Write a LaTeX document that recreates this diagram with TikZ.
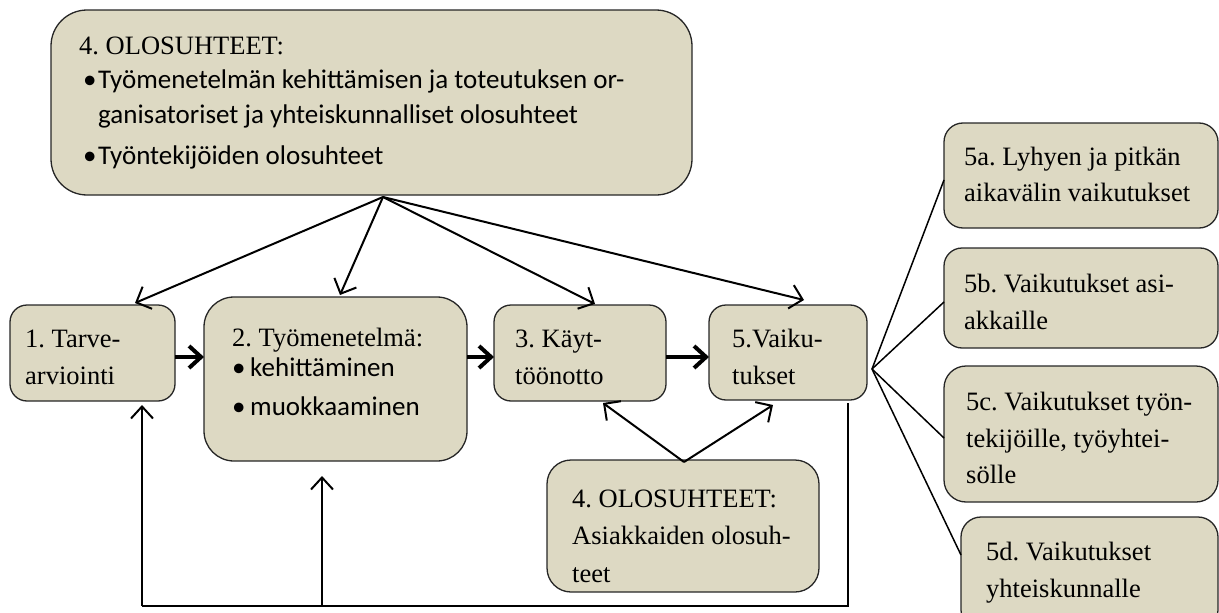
\documentclass[tikz,border=0pt]{standalone}
\usepackage{fontspec}
\setmainfont{Liberation Serif}
\newfontfamily\calib{Carlito}
\usetikzlibrary{arrows.meta}
\definecolor{boxfill}{HTML}{DDD9C3}
\definecolor{boxline}{HTML}{262626}
\begin{document}
\frenchspacing
\begin{tikzpicture}[x=1pt,y=-1pt,
  bx/.style={draw=boxline, fill=boxfill, line width=1.3pt, inner sep=0pt, outer sep=0pt},
  txt/.style={anchor=mid west, inner sep=0pt, yshift=-5pt, font=\fontsize{26.5}{30}\selectfont},
  stxt/.style={anchor=mid west, inner sep=0pt, yshift=-4.5pt, font=\calib\fontsize{27}{30}\selectfont},
  fanarrow/.style={line width=2pt, -{Straight Barb[length=12pt,width=24pt,line width=2pt]}},
  flowarrow/.style={line width=4pt, -{Straight Barb[length=12pt,width=22pt,line width=4pt]}},
  backarrow/.style={line width=2pt, -{Straight Barb[length=12pt,width=22pt,line width=2pt]}},
  backline/.style={line width=2pt},
  fanline/.style={line width=1.5pt}
]
\useasboundingbox (0,0) rectangle (1219,613);

% boxes
\node[bx, rounded corners=36pt, minimum width=641pt, minimum height=185pt] (top) at (371.5,102.5) {};
\node[bx, rounded corners=17pt, minimum width=165pt, minimum height=96pt] (b1) at (92.5,353) {};
\node[bx, rounded corners=30pt, minimum width=263pt, minimum height=164pt] (b2) at (335.5,379) {};
\node[bx, rounded corners=17pt, minimum width=172pt, minimum height=96pt] (b3) at (580,353) {};
\node[bx, rounded corners=17pt, minimum width=158pt, minimum height=95pt] (b5) at (788,352.5) {};
\node[bx, rounded corners=24pt, minimum width=272pt, minimum height=132pt] (b4) at (683,526) {};
\node[bx, rounded corners=19pt, minimum width=274pt, minimum height=105pt] (b5a) at (1081,175.5) {};
\node[bx, rounded corners=18pt, minimum width=274pt, minimum height=100pt] (b5b) at (1081,298) {};
\node[bx, rounded corners=22pt, minimum width=274pt, minimum height=136pt] (b5c) at (1081,434) {};
\node[bx, rounded corners=20pt, minimum width=257pt, minimum height=113pt] (b5d) at (1089.5,573.5) {};

% texts
\node[txt] (t0) at (79,47) {4. OLOSUHTEET:};
\node[stxt] (t0a) at (83,82) {\makebox[15pt][l]{\textbullet}Työmenetelmän kehittämisen ja toteutuksen or-};
\node[stxt] (t0b) at (98,117) {ganisatoriset ja yhteiskunnalliset olosuhteet};
\node[stxt] (t0c) at (83,158) {\makebox[15pt][l]{\textbullet}Työntekijöiden olosuhteet};

\node[txt] (t1a) at (25,340) {1. Tarve-};
\node[txt] (t1b) at (25,377) {arviointi};

\node[txt] (t2a) at (232,339) {2. Työmenetelmä:};
\node[stxt] (t2b) at (232,370) {\makebox[18pt][l]{\textbullet}kehittäminen};
\node[stxt] (t2c) at (232,409) {\makebox[18pt][l]{\textbullet}muokkaaminen};

\node[txt] (t3a) at (515,340) {3. Käyt-};
\node[txt] (t3b) at (515,377) {töönotto};

\node[txt] (t5a) at (732,340) {5.Vaiku-};
\node[txt] (t5b) at (732,377) {tukset};

\node[txt] (t4a) at (572,500) {4. OLOSUHTEET:};
\node[txt] (t4b) at (572,537) {Asiakkaiden olosuh-};
\node[txt] (t4c) at (572,575) {teet};

\node[txt] (ta1) at (964,158) {5a. Lyhyen ja pitkän};
\node[txt] (ta2) at (964,194) {aikavälin vaikutukset};
\node[txt] (tb1) at (964,285) {5b. Vaikutukset asi-};
\node[txt] (tb2) at (964,322) {akkaille};
\node[txt] (tc1) at (966,403) {5c. Vaikutukset työn-};
\node[txt] (tc2) at (966,440) {tekijöille, työyhtei-};
\node[txt] (tc3) at (966,476) {sölle};
\node[txt] (td1) at (986,553) {5d. Vaikutukset};
\node[txt] (td2) at (986,590) {yhteiskunnalle};

% coordinates
\coordinate (conv) at (383,197);
\coordinate (e1) at (135,303);
\coordinate (e2) at (340,295);
\coordinate (e3) at (595,304);
\coordinate (e5) at (804,300);
\coordinate (apex) at (684,462);
\coordinate (u3) at (603,403);
\coordinate (u5) at (773,405);
\coordinate (f5) at (872,369);
\coordinate (fbr) at (848,403);
\coordinate (fbc) at (848,606);
\coordinate (fbl) at (142,606);
\coordinate (fbm) at (322,606);
\coordinate (fbl1) at (142,405);
\coordinate (fbm2) at (322,476);

% top fan arrows
\draw[fanarrow] (conv) -- (e1);
\draw[fanarrow] (conv) -- (e2);
\draw[fanarrow] (conv) -- (e3);
\draw[fanarrow] (conv) -- (e5);

% flow arrows
\draw[flowarrow] (b1.east |- 0,357) -- (b2.west |- 0,357);
\draw[flowarrow] (b2.east |- 0,357) -- (b3.west |- 0,357);
\draw[flowarrow] (b3.east |- 0,357) -- (b5.west |- 0,357);

% client conditions
\draw[fanarrow] (apex) -- (u3);
\draw[fanarrow] (apex) -- (u5);

% feedback
\draw[backline] (fbr) -- (fbc) -- (fbl);
\draw[backarrow] (fbl) -- (fbl1);
\draw[backarrow] (fbm) -- (fbm2);

% effects fan
\draw[fanline] (f5) -- ([yshift=-4.5pt]b5a.west);
\draw[fanline] (f5) -- ([yshift=-4pt]b5b.west);
\draw[fanline] (f5) -- ([yshift=-4pt]b5c.west);
\draw[fanline] (f5) -- ([yshift=18.5pt]b5d.west);
\end{tikzpicture}
\end{document}
